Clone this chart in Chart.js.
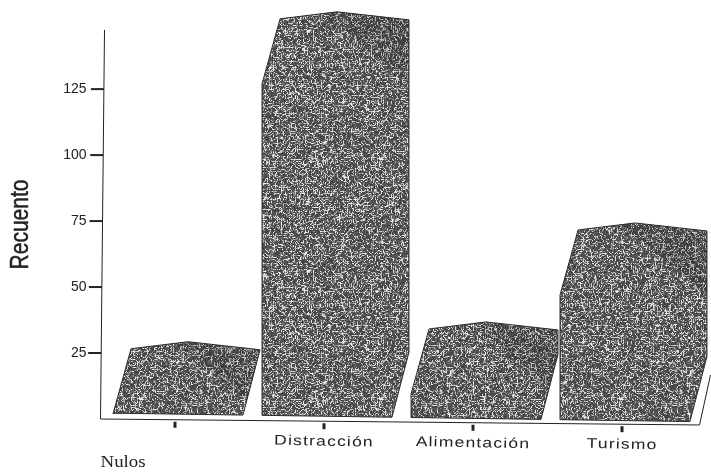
<!DOCTYPE html>
<html><head><meta charset="utf-8">
<style>html,body{margin:0;padding:0;background:#fff}canvas{display:block}</style>
<script src="https://cdn.jsdelivr.net/npm/chart.js@4"></script>
</head><body><canvas id="c" width="711" height="472"></canvas>
<script>
const categories = ["Nulos", "Distracción", "Alimentación", "Turismo"];
const counts = [2, 127, 9.5, 47];
const yTickLabels = [25, 50, 75, 100, 125];
const yTitle = "Recuento";

// style constants for the pseudo-3D look
const DEPTH_X = 18, DEPTH_Y = 65, PEAK_X = 75, PEAK_Y = 7, NUDGE = 3;
const BASE_LIFT = 6, BASE_TILT = 0.0145, AXIS_TILT = 0.01, YAXIS_LEAN = 4;

function hash(x, y) { const s = Math.sin(x * 12.9898 + y * 78.233) * 43758.5453; return s - Math.floor(s); }
function makeTexture() {
  const n = 240, cell = 2, m = n / cell, cv = document.createElement('canvas'); cv.width = cv.height = n;
  const g = cv.getContext('2d'), im = g.createImageData(n, n);
  const sm = t => t * t * (3 - 2 * t);
  const noise = (x, y) => {
    const ix = Math.floor(x / cell), iy = Math.floor(y / cell), fx = sm(x / cell - ix), fy = sm(y / cell - iy);
    const h = (a, b) => hash((a + m) % m, (b + m) % m);
    return (h(ix, iy) * (1 - fx) + h(ix + 1, iy) * fx) * (1 - fy) + (h(ix, iy + 1) * (1 - fx) + h(ix + 1, iy + 1) * fx) * fy;
  };
  for (let y = 0; y < n; y++) for (let x = 0; x < n; x++) {
    const a = noise(x, y), b = hash(x, y + 500);
    let v = 58 + b * 40;
    if (Math.abs(a - 0.5) < 0.07) v = 165 + b * 85;
    else if (Math.abs(a - 0.5) < 0.11) v = 115 + b * 30;
    const i = (y * n + x) * 4;
    im.data[i] = im.data[i + 1] = im.data[i + 2] = v; im.data[i + 3] = 255;
  }
  g.putImageData(im, 0, 0);
  return cv;
}

const solid3D = {
  id: 'solid3D',
  afterDatasetsDraw(chart) {
    const ctx = chart.ctx, tex = ctx.createPattern(makeTexture(), 'repeat');
    const xs = chart.scales.x, ys = chart.scales.y, zero = ys.getPixelForValue(0);
    chart.getDatasetMeta(0).data.forEach(bar => {
      const L = bar.x - bar.width / 2 + NUDGE, R = bar.x + bar.width / 2 + NUDGE;
      const bot = x => zero - BASE_LIFT + (x - xs.left) * BASE_TILT;
      const t = bar.y;
      ctx.save();
      ctx.beginPath();
      ctx.moveTo(L, bot(L));
      ctx.lineTo(L, t);
      ctx.lineTo(L + DEPTH_X, t - DEPTH_Y);
      ctx.lineTo(L + PEAK_X, t - DEPTH_Y - PEAK_Y);
      ctx.lineTo(R + DEPTH_X - 1, t - DEPTH_Y + 1);
      ctx.lineTo(R + DEPTH_X - 1, bot(R) - DEPTH_Y);
      ctx.lineTo(R, bot(R));
      ctx.closePath();
      ctx.fillStyle = tex; ctx.fill();
      ctx.strokeStyle = '#2a2a2a'; ctx.lineWidth = 1; ctx.stroke();
      ctx.clip();
      ctx.beginPath();
      ctx.moveTo(L + PEAK_X - 15, t - DEPTH_Y - PEAK_Y);
      ctx.lineTo(R + DEPTH_X, t - DEPTH_Y);
      ctx.lineTo(R + DEPTH_X, t);
      ctx.closePath();
      ctx.fillStyle = 'rgba(20,20,20,0.16)'; ctx.fill();
      ctx.restore();
    });
  },
  afterDraw(chart) {
    const ctx = chart.ctx, xs = chart.scales.x, ys = chart.scales.y, zero = ys.getPixelForValue(0);
    const axisX = y => xs.left + YAXIS_LEAN * (zero - y) / (zero - ys.top);
    const axisY = x => zero + (x - xs.left) * AXIS_TILT;
    ctx.save();
    ctx.strokeStyle = '#222'; ctx.lineWidth = 1;
    ctx.beginPath();
    ctx.moveTo(axisX(ys.top), ys.top); ctx.lineTo(xs.left, zero);
    ctx.lineTo(xs.right + 3, axisY(xs.right + 3)); ctx.lineTo(xs.right + 14, axisY(xs.right) - 50);
    ctx.stroke();
    ctx.lineWidth = 2;
    yTickLabels.forEach(v => {
      const y = ys.getPixelForValue(v), x = axisX(y);
      ctx.beginPath(); ctx.moveTo(x - 13, y); ctx.lineTo(x, y); ctx.stroke();
    });
    ctx.lineWidth = 3; ctx.textBaseline = 'middle'; ctx.textAlign = 'center'; ctx.fillStyle = '#222';
    categories.forEach((c, i) => {
      const x = xs.getPixelForTick(i), y = axisY(x);
      ctx.beginPath(); ctx.moveTo(x, y + 2); ctx.lineTo(x, y + 8); ctx.stroke();
      ctx.save();
      if (i === 0) {
        ctx.font = '16px "Liberation Serif"'; ctx.textAlign = 'left';
        ctx.translate(xs.left, 463);
        ctx.scale(1.18, 1);
        ctx.fillText(c, 0, 0);
      } else {
        ctx.font = '15px "Liberation Sans"';
        if ('letterSpacing' in ctx) ctx.letterSpacing = '1px';
        ctx.translate(x, y + 20.5);
        ctx.rotate(0.02);
        ctx.scale(1.17, 0.93);
        ctx.fillText(c, 0, 0);
      }
      ctx.restore();
    });
    // axis title: condensed, heavy letters as in the reference
    ctx.save();
    ctx.translate(21, (ys.top + zero) / 2);
    ctx.rotate(-Math.PI / 2);
    ctx.scale(0.84, 1);
    ctx.font = '25px "Liberation Sans"';
    ctx.fillText(yTitle, 0, 0);
    ctx.lineWidth = 0.5; ctx.strokeText(yTitle, 0, 0);
    ctx.restore();
    ctx.restore();
  }
};

new Chart(document.getElementById('c'), {
  type: 'bar',
  data: { labels: categories, datasets: [{ label: yTitle, data: counts, backgroundColor: 'rgba(0,0,0,0)', barPercentage: 0.872, categoryPercentage: 1 }] },
  plugins: [solid3D],
  options: {
    responsive: false, animation: false,
    layout: { padding: { top: 30, right: 14.5, left: 0, bottom: 0 } },
    plugins: { legend: { display: false }, tooltip: { enabled: false }, title: { display: false } },
    scales: {
      x: {
        grid: { display: false, drawTicks: false }, border: { display: false },
        ticks: { display: false },
        afterFit(s) { s.height = 53; }
      },
      y: {
        min: 0, max: 147.4,
        grid: { display: false, drawTicks: false }, border: { display: false },
        afterBuildTicks(s) { s.ticks = yTickLabels.map(v => ({ value: v })); },
        ticks: { color: '#222', font: { family: '"Liberation Sans"', size: 14 }, padding: 14 },
        afterFit(s) { s.width = 100.5; }
      }
    }
  }
});
</script></body></html>
